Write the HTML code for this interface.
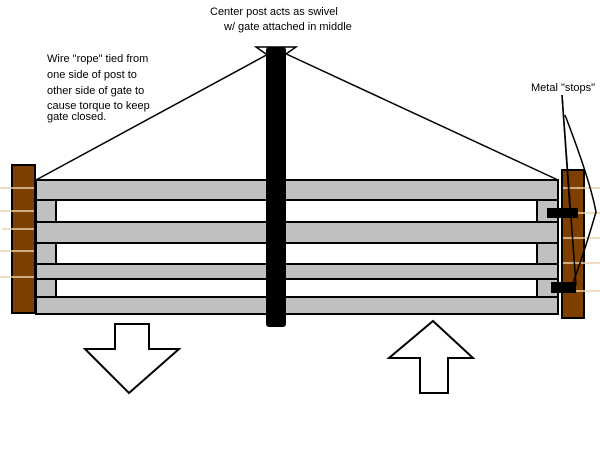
<!DOCTYPE html>
<html><head><style>
body{margin:0;background:#fff;width:600px;height:448px;overflow:hidden}
svg text{font-family:"Liberation Sans",sans-serif;font-size:11px;fill:#000}
</style></head><body>
<svg width="600" height="448" viewBox="0 0 600 448" xmlns="http://www.w3.org/2000/svg">
<text x="210" y="15">Center post acts as swivel</text>
<text x="224" y="30">w/ gate attached in middle</text>
<text x="47" y="62">Wire "rope" tied from</text>
<text x="47" y="78">one side of post to</text>
<text x="47" y="94">other side of gate to</text>
<text x="47" y="109">cause torque to keep</text>
<text x="47" y="120">gate closed.</text>
<text x="531" y="91">Metal "stops"</text>
<line x1="272" y1="52" x2="36" y2="180" stroke="#000" stroke-width="1.5"/>
<line x1="282" y1="52" x2="558" y2="180" stroke="#000" stroke-width="1.5"/>
<rect x="12" y="165" width="23" height="148" fill="#7f3f00" stroke="#000" stroke-width="2"/>
<rect x="562" y="170" width="22" height="148" fill="#7f3f00" stroke="#000" stroke-width="2"/>
<g stroke="#e8d0b0" stroke-width="1.5">
<line x1="0" y1="188" x2="34" y2="188"/><line x1="0" y1="211" x2="34" y2="211"/><line x1="2" y1="229" x2="34" y2="229"/><line x1="0" y1="251" x2="34" y2="251"/><line x1="0" y1="277" x2="34" y2="277"/>
<line x1="563" y1="188" x2="600" y2="188"/><line x1="563" y1="213" x2="600" y2="213"/><line x1="563" y1="238" x2="600" y2="238"/><line x1="563" y1="263" x2="600" y2="263"/><line x1="563" y1="291" x2="600" y2="291"/>
</g>
<rect x="36" y="180" width="20" height="134" fill="#c0c0c0" stroke="#000" stroke-width="2"/>
<rect x="537" y="180" width="21" height="134" fill="#c0c0c0" stroke="#000" stroke-width="2"/>
<g fill="#c0c0c0" stroke="#000" stroke-width="2">
<rect x="36" y="180" width="522" height="20"/>
<rect x="36" y="222" width="522" height="21"/>
<rect x="36" y="264" width="522" height="15"/>
<rect x="36" y="297" width="522" height="17"/>
</g>
<rect x="266" y="47" width="20" height="280" rx="3" fill="#000"/>
<path d="M256 47 L296 47 L286 54 L266 54 Z" fill="none" stroke="#000" stroke-width="1.5"/>
<rect x="547" y="208" width="31" height="10" fill="#000"/>
<rect x="551" y="282" width="25" height="11" fill="#000"/>
<g fill="none" stroke="#000" stroke-width="1.5">
<path d="M562 95 L570 210"/>
<path d="M562 95 L576 285"/>
<path d="M565 115 Q590 180 596 212 Q585 250 573 283"/>
</g>
<path d="M115 324 L149 324 L149 349 L179 349 L129 393 L85 349 L115 349 Z" fill="#fff" stroke="#000" stroke-width="2"/>
<path d="M433 321 L473 358 L448 358 L448 393 L420 393 L420 358 L389 358 Z" fill="#fff" stroke="#000" stroke-width="2"/>
</svg>
</body></html>
